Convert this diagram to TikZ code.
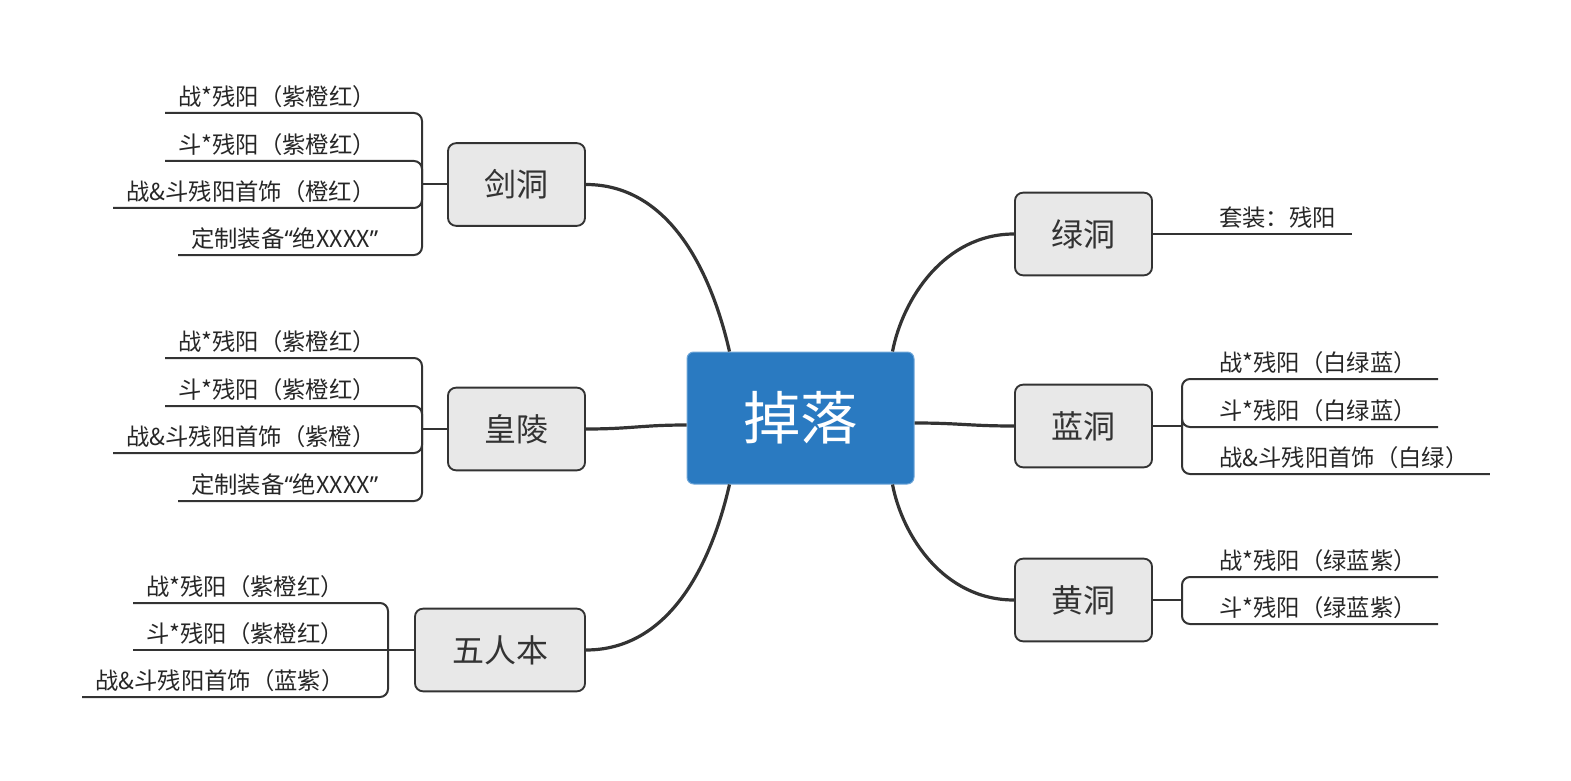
\documentclass[tikz,border=0pt]{standalone}
\usepackage{fontspec}
\setmainfont{Noto Sans CJK SC}
\newfontfamily\latinq{Noto Sans}
\newcommand{\myoq}{{\latinq “}}
\newcommand{\mycq}{{\latinq ”}}
\usetikzlibrary{calc}
\definecolor{hubblue}{HTML}{2A7AC1}
\definecolor{hubedge}{HTML}{6FA6D8}
\definecolor{boxgray}{HTML}{E8E8E8}
\definecolor{ink}{HTML}{333333}
\definecolor{txt}{HTML}{262626}
\begin{document}
\begin{tikzpicture}[x=0.75pt,y=-0.75pt,
 hub/.style={fill=hubblue,draw=hubedge,line width=0.75pt,rounded corners=5pt,minimum width=170.25pt,minimum height=99pt,inner sep=0pt,text=white,font=\fontsize{43pt}{50pt}\selectfont},
 topic/.style={fill=boxgray,draw=ink,line width=1.4pt,rounded corners=6pt,minimum height=62pt,inner sep=0pt,text=ink,font=\fontsize{24pt}{28pt}\selectfont},
 main/.style={draw=ink,line width=2.4pt},
 leafline/.style={draw=ink,line width=1.5pt,rounded corners=6pt},
 leaf/.style={anchor=south west,inner xsep=9.75pt,inner ysep=5.4pt,text depth=0pt,text=txt,font=\fontsize{17.5pt}{21pt}\selectfont}]
\useasboundingbox (0,0) rectangle (1571,781);

% hub and topics
\node[hub] (hub) at (800.5,418) {掉落};
\node[topic,minimum width=102.75pt] (jd) at (516.5,184.5) {剑洞};
\node[topic,minimum width=102.75pt] (hl) at (516.5,429) {皇陵};
\node[topic,minimum width=127.5pt] (wr) at (500,650) {五人本};
\node[topic,minimum width=102.75pt] (lv) at (1083.5,234) {绿洞};
\node[topic,minimum width=102.75pt] (ld) at (1083.5,426) {蓝洞};
\node[topic,minimum width=102.75pt] (hd) at (1083.5,600) {黄洞};

% main connectors
\draw[main] ([xshift=32.25pt]hub.north west) .. controls +(-20,-87) and +(80,0) .. (jd.east);
\draw[main] ([yshift=-5.25pt]hub.west) .. controls +(-45,0) and +(45,0) .. (hl.east);
\draw[main] ([xshift=32.25pt]hub.south west) .. controls +(-20,87) and +(80,0) .. (wr.east);
\draw[main] ([xshift=-16.5pt]hub.north east) .. controls +(10,-52) and +(-70,0) .. (lv.west);
\draw[main] ([yshift=-3.75pt]hub.east) .. controls +(45,0) and +(-45,0) .. (ld.west);
\draw[main] ([xshift=-16.5pt]hub.south east) .. controls +(10,52) and +(-70,0) .. (hd.west);

% 剑洞 leaves
\coordinate (jdj) at (422,184.5);
\draw[leafline] (jd.west) -- (jdj);
\node[leaf] (jd1) at (165,113) {战*残阳（紫橙红）};
\node[leaf] (jd2) at (165,161) {斗*残阳（紫橙红）};
\node[leaf] (jd3) at (113,208) {战\&斗残阳首饰（橙红）};
\node[leaf] (jd4) at (178,255) {定制装备\myoq 绝XXXX\mycq};
\draw[leafline] (jdj) |- (jd1.south west);
\draw[leafline] (jdj) |- (jd2.south west);
\draw[leafline] (jdj) |- (jd3.south west);
\draw[leafline] (jdj) |- (jd4.south west);

% 皇陵 leaves
\coordinate (hlj) at (422,429);
\draw[leafline] (hl.west) -- (hlj);
\node[leaf] (hl1) at (165,358) {战*残阳（紫橙红）};
\node[leaf] (hl2) at (165,406) {斗*残阳（紫橙红）};
\node[leaf] (hl3) at (113,453) {战\&斗残阳首饰（紫橙）};
\node[leaf] (hl4) at (178,501) {定制装备\myoq 绝XXXX\mycq};
\draw[leafline] (hlj) |- (hl1.south west);
\draw[leafline] (hlj) |- (hl2.south west);
\draw[leafline] (hlj) |- (hl3.south west);
\draw[leafline] (hlj) |- (hl4.south west);

% 五人本 leaves
\coordinate (wrj) at (388,650);
\draw[leafline] (wr.west) -- (wrj);
\node[leaf] (wr1) at (133,603) {战*残阳（紫橙红）};
\node[leaf] (wr2) at (133,650) {斗*残阳（紫橙红）};
\node[leaf] (wr3) at (82,697) {战\&斗残阳首饰（蓝紫）};
\draw[leafline] (wrj) |- (wr1.south west);
\draw[leafline] (wrj) -- (wr2.south west);
\draw[leafline] (wrj) |- (wr3.south west);

% 绿洞 leaf
\node[leaf] (lv1) at (1206,234) {套装：残阳};
\draw[leafline] (lv.east) -- ([xshift=2pt]lv1.south east);

% 蓝洞 leaves
\coordinate (ldj) at (1182,426);
\draw[leafline] (ld.east) -- (ldj);
\node[leaf] (ld1) at (1206,379) {战*残阳（白绿蓝）};
\node[leaf] (ld2) at (1206,427) {斗*残阳（白绿蓝）};
\node[leaf] (ld3) at (1206,474) {战\&斗残阳首饰（白绿）};
\draw[leafline] (ldj) |- ([xshift=6pt]ld1.south east);
\draw[leafline] (ldj) |- ([xshift=6pt]ld2.south east);
\draw[leafline] (ldj) |- ([xshift=6pt]ld3.south east);

% 黄洞 leaves
\coordinate (hdj) at (1182,600);
\draw[leafline] (hd.east) -- (hdj);
\node[leaf] (hd1) at (1206,577) {战*残阳（绿蓝紫）};
\node[leaf] (hd2) at (1206,624) {斗*残阳（绿蓝紫）};
\draw[leafline] (hdj) |- ([xshift=6pt]hd1.south east);
\draw[leafline] (hdj) |- ([xshift=6pt]hd2.south east);
\end{tikzpicture}
\end{document}
